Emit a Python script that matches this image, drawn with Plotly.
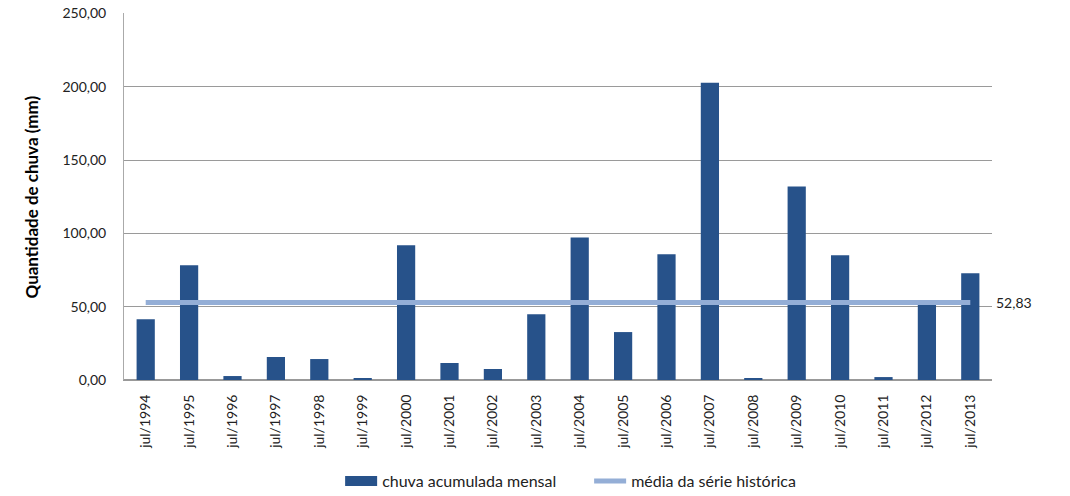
import plotly.graph_objects as go

categories = ["jul/1994", "jul/1995", "jul/1996", "jul/1997", "jul/1998", "jul/1999",
              "jul/2000", "jul/2001", "jul/2002", "jul/2003", "jul/2004", "jul/2005",
              "jul/2006", "jul/2007", "jul/2008", "jul/2009", "jul/2010", "jul/2011",
              "jul/2012", "jul/2013"]
chuva = [41.5, 78.3, 2.7, 15.7, 14.3, 0.7, 91.9, 11.6, 7.5, 44.9,
         97.3, 32.7, 85.8, 202.8, 0.7, 132.0, 85.1, 2.0, 51.5, 72.8]
media = 52.83
y_ticks = [0, 50, 100, 150, 200, 250]

FONT = "Lato, Liberation Sans, sans-serif"
BAR_COLOR = "#27528A"
LINE_COLOR = "#94AED6"

fig = go.Figure()
fig.add_trace(go.Bar(x=categories, y=chuva, name="chuva acumulada mensal",
                     legendgroup="bar", showlegend=False,
                     marker=dict(color=BAR_COLOR, line=dict(width=0))))
# legend entry drawn as a wide rectangle swatch (no data)
fig.add_trace(go.Scatter(x=[None], y=[None], mode="lines", name="chuva acumulada mensal",
                         legendgroup="bar", hoverinfo="skip",
                         line=dict(color=BAR_COLOR, width=13)))
fig.add_trace(go.Scatter(x=categories, y=[media] * len(categories), mode="lines",
                         name="média da série histórica",
                         line=dict(color=LINE_COLOR, width=5)))

fig.add_annotation(x=categories[-1], y=media, xref="x", yref="y", text="52,83",
                   showarrow=False, xanchor="left", xshift=24,
                   font=dict(family=FONT, size=14, color="#222"))
fig.add_annotation(x=-0.106, y=0.5, xref="paper", yref="paper",
                   text="<b>Quantidade de chuva (mm)</b>", textangle=-90,
                   xanchor="center", yanchor="middle",
                   showarrow=False, font=dict(family=FONT, size=17, color="#000"))

fig.update_layout(
    width=1070, height=496,
    margin=dict(l=124, r=78, t=13, b=116),
    paper_bgcolor="white", plot_bgcolor="white",
    separators=",.",
    bargap=0.58,
    font=dict(family=FONT, size=14, color="#222"),
    showlegend=True,
    legend=dict(orientation="h", x=0.249, xanchor="left",
                yref="container", y=0.030, yanchor="middle",
                font=dict(family=FONT, size=16, color="#222"), traceorder="normal",
                itemwidth=32, entrywidth=202, entrywidthmode="pixels"),
)
fig.update_xaxes(range=[-0.5, len(categories) - 0.5], automargin=False,
                 tickangle=-90, showgrid=False, showline=True, linecolor="#999",
                 ticks="", ticklabelstandoff=8, tickfont=dict(size=14))
fig.update_yaxes(range=[0, 250.4], automargin=False, tickvals=y_ticks, tickformat=".2f",
                 ticklabeloverflow="allow",
                 showgrid=True, gridcolor="#9A9A9A", gridwidth=1,
                 showline=True, linecolor="#AAA", zeroline=True, zerolinecolor="#999",
                 ticks="", ticklabelstandoff=14, tickfont=dict(size=14))

fig.write_html("out.html", config={"displayModeBar": False},
               post_script="document.body.style.margin='0';")
